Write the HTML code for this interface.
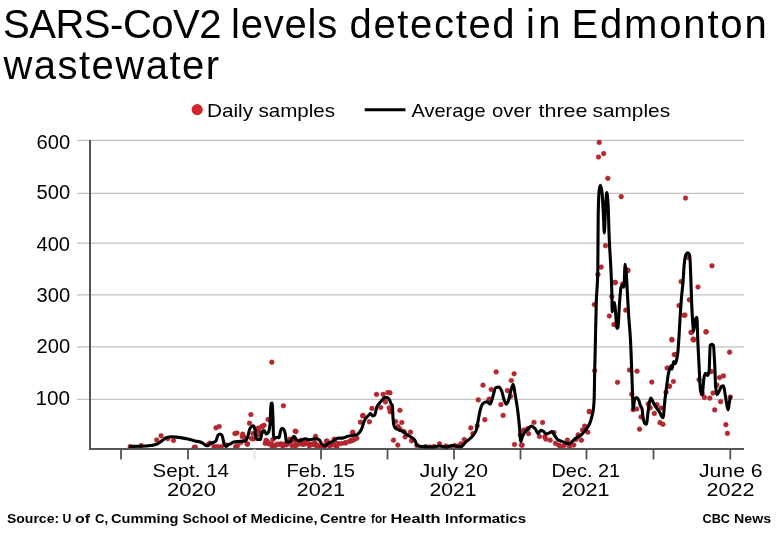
<!DOCTYPE html>
<html><head><meta charset="utf-8"><style>
html,body{margin:0;padding:0;background:#fff;width:780px;height:534px;overflow:hidden}
svg{display:block;font-family:"Liberation Sans", sans-serif;will-change:transform}
</style></head><body>
<svg width="780" height="534" viewBox="0 0 780 534">
<circle cx="197.2" cy="109.6" r="5.6" fill="#d1262d"/>
<line x1="364.7" y1="109.8" x2="405.5" y2="109.8" stroke="#000" stroke-width="3"/>
<line x1="77" y1="140.4" x2="744" y2="140.4" stroke="#c2c2c2" stroke-width="1.1"/>
<line x1="77" y1="193.4" x2="744" y2="193.4" stroke="#c2c2c2" stroke-width="1.1"/>
<line x1="77" y1="243.1" x2="744" y2="243.1" stroke="#c2c2c2" stroke-width="1.1"/>
<line x1="77" y1="294.9" x2="744" y2="294.9" stroke="#c2c2c2" stroke-width="1.1"/>
<line x1="77" y1="346.9" x2="744" y2="346.9" stroke="#c2c2c2" stroke-width="1.1"/>
<line x1="77" y1="399.4" x2="744" y2="399.4" stroke="#c2c2c2" stroke-width="1.1"/>
<path d="M90 140 V449 H744" fill="none" stroke="#555555" stroke-width="2"/>
<line x1="121" y1="449" x2="121" y2="459.5" stroke="#555555" stroke-width="1.8"/>
<line x1="188" y1="449" x2="188" y2="459.5" stroke="#555555" stroke-width="1.8"/>
<line x1="254.5" y1="449" x2="254.5" y2="459.5" stroke="#e4e4e4" stroke-width="1.8"/>
<line x1="321" y1="449" x2="321" y2="459.5" stroke="#555555" stroke-width="1.8"/>
<line x1="387.5" y1="449" x2="387.5" y2="459.5" stroke="#555555" stroke-width="1.8"/>
<line x1="454" y1="449" x2="454" y2="459.5" stroke="#555555" stroke-width="1.8"/>
<line x1="520.5" y1="449" x2="520.5" y2="459.5" stroke="#555555" stroke-width="1.8"/>
<line x1="586.5" y1="449" x2="586.5" y2="459.5" stroke="#555555" stroke-width="1.8"/>
<line x1="653.5" y1="449" x2="653.5" y2="459.5" stroke="#555555" stroke-width="1.8"/>
<line x1="730.3" y1="449" x2="730.3" y2="459.5" stroke="#555555" stroke-width="1.8"/>
<clipPath id="pc"><rect x="91" y="120" width="660" height="328"/></clipPath>
<g clip-path="url(#pc)" fill="#bb272e" stroke="#9a1d24" stroke-width="0.5"><circle cx="130.2" cy="446.7" r="2.35"/><circle cx="141.2" cy="445.6" r="2.35"/><circle cx="156.7" cy="440.0" r="2.35"/><circle cx="161.1" cy="435.8" r="2.35"/><circle cx="167.7" cy="438.7" r="2.35"/><circle cx="173.5" cy="440.4" r="2.35"/><circle cx="194.2" cy="447.5" r="2.35"/><circle cx="216.0" cy="427.8" r="2.35"/><circle cx="219.2" cy="426.5" r="2.35"/><circle cx="195.3" cy="447.1" r="2.35"/><circle cx="208.1" cy="444.5" r="2.35"/><circle cx="210.0" cy="443.2" r="2.35"/><circle cx="214.0" cy="446.5" r="2.35"/><circle cx="217.3" cy="446.5" r="2.35"/><circle cx="221.2" cy="446.8" r="2.35"/><circle cx="226.5" cy="445.1" r="2.35"/><circle cx="235.6" cy="446.8" r="2.35"/><circle cx="240.9" cy="442.5" r="2.35"/><circle cx="234.9" cy="433.6" r="2.35"/><circle cx="242.7" cy="434.1" r="2.35"/><circle cx="244.6" cy="437.5" r="2.35"/><circle cx="247.5" cy="443.8" r="2.35"/><circle cx="249.5" cy="423.2" r="2.35"/><circle cx="250.9" cy="414.6" r="2.35"/><circle cx="253.4" cy="439.0" r="2.35"/><circle cx="259.2" cy="431.2" r="2.35"/><circle cx="262.1" cy="426.3" r="2.35"/><circle cx="264.1" cy="425.3" r="2.35"/><circle cx="268.0" cy="419.5" r="2.35"/><circle cx="266.5" cy="440.9" r="2.35"/><circle cx="268.9" cy="443.8" r="2.35"/><circle cx="271.9" cy="445.8" r="2.35"/><circle cx="276.7" cy="444.8" r="2.35"/><circle cx="280.6" cy="443.8" r="2.35"/><circle cx="283.1" cy="445.8" r="2.35"/><circle cx="286.5" cy="444.8" r="2.35"/><circle cx="283.4" cy="405.8" r="2.35"/><circle cx="271.8" cy="362.2" r="2.35"/><circle cx="296.0" cy="431.5" r="2.35"/><circle cx="315.6" cy="436.3" r="2.35"/><circle cx="289.9" cy="439.2" r="2.35"/><circle cx="326.5" cy="441.2" r="2.35"/><circle cx="334.2" cy="439.2" r="2.35"/><circle cx="291.8" cy="445.6" r="2.35"/><circle cx="295.7" cy="445.0" r="2.35"/><circle cx="302.7" cy="444.4" r="2.35"/><circle cx="304.7" cy="441.2" r="2.35"/><circle cx="309.2" cy="444.4" r="2.35"/><circle cx="313.6" cy="444.4" r="2.35"/><circle cx="316.2" cy="445.6" r="2.35"/><circle cx="320.0" cy="446.9" r="2.35"/><circle cx="330.3" cy="445.6" r="2.35"/><circle cx="335.4" cy="445.0" r="2.35"/><circle cx="337.4" cy="443.7" r="2.35"/><circle cx="362.7" cy="415.9" r="2.35"/><circle cx="360.4" cy="422.2" r="2.35"/><circle cx="369.4" cy="421.8" r="2.35"/><circle cx="352.9" cy="432.4" r="2.35"/><circle cx="356.8" cy="438.3" r="2.35"/><circle cx="354.1" cy="439.5" r="2.35"/><circle cx="350.9" cy="440.7" r="2.35"/><circle cx="345.4" cy="443.0" r="2.35"/><circle cx="338.4" cy="443.8" r="2.35"/><circle cx="336.8" cy="446.2" r="2.35"/><circle cx="376.5" cy="394.4" r="2.35"/><circle cx="383.1" cy="394.4" r="2.35"/><circle cx="387.8" cy="392.5" r="2.35"/><circle cx="385.4" cy="401.9" r="2.35"/><circle cx="380.7" cy="407.5" r="2.35"/><circle cx="371.9" cy="408.4" r="2.35"/><circle cx="389.2" cy="407.9" r="2.35"/><circle cx="390.1" cy="411.7" r="2.35"/><circle cx="399.9" cy="410.3" r="2.35"/><circle cx="363.0" cy="415.4" r="2.35"/><circle cx="395.7" cy="421.5" r="2.35"/><circle cx="398.1" cy="426.7" r="2.35"/><circle cx="400.0" cy="429.0" r="2.35"/><circle cx="393.5" cy="440.2" r="2.35"/><circle cx="397.8" cy="445.1" r="2.35"/><circle cx="390.0" cy="392.8" r="2.35"/><circle cx="401.8" cy="422.5" r="2.35"/><circle cx="404.0" cy="431.5" r="2.35"/><circle cx="405.1" cy="436.9" r="2.35"/><circle cx="410.5" cy="432.2" r="2.35"/><circle cx="411.5" cy="440.8" r="2.35"/><circle cx="416.9" cy="445.5" r="2.35"/><circle cx="425.5" cy="446.6" r="2.35"/><circle cx="439.5" cy="443.8" r="2.35"/><circle cx="446.0" cy="446.0" r="2.35"/><circle cx="454.6" cy="445.5" r="2.35"/><circle cx="461.0" cy="443.8" r="2.35"/><circle cx="464.3" cy="439.5" r="2.35"/><circle cx="470.8" cy="427.9" r="2.35"/><circle cx="472.9" cy="433.7" r="2.35"/><circle cx="477.2" cy="425.7" r="2.35"/><circle cx="478.3" cy="399.9" r="2.35"/><circle cx="483.0" cy="385.2" r="2.35"/><circle cx="484.8" cy="419.7" r="2.35"/><circle cx="489.1" cy="399.2" r="2.35"/><circle cx="491.2" cy="389.5" r="2.35"/><circle cx="496.2" cy="371.9" r="2.35"/><circle cx="500.9" cy="404.6" r="2.35"/><circle cx="503.1" cy="415.4" r="2.35"/><circle cx="507.4" cy="390.6" r="2.35"/><circle cx="511.3" cy="380.5" r="2.35"/><circle cx="514.1" cy="373.8" r="2.35"/><circle cx="510.6" cy="396.4" r="2.35"/><circle cx="514.5" cy="444.5" r="2.35"/><circle cx="521.4" cy="445.1" r="2.35"/><circle cx="520.3" cy="434.8" r="2.35"/><circle cx="523.5" cy="430.5" r="2.35"/><circle cx="527.8" cy="428.7" r="2.35"/><circle cx="430.0" cy="447.0" r="2.35"/><circle cx="434.0" cy="446.5" r="2.35"/><circle cx="450.0" cy="447.0" r="2.35"/><circle cx="458.0" cy="446.0" r="2.35"/><circle cx="522.2" cy="445.1" r="2.35"/><circle cx="524.3" cy="430.0" r="2.35"/><circle cx="528.6" cy="433.7" r="2.35"/><circle cx="534.0" cy="422.3" r="2.35"/><circle cx="539.4" cy="436.5" r="2.35"/><circle cx="542.6" cy="422.5" r="2.35"/><circle cx="544.8" cy="436.9" r="2.35"/><circle cx="545.8" cy="439.1" r="2.35"/><circle cx="550.2" cy="440.2" r="2.35"/><circle cx="554.0" cy="432.6" r="2.35"/><circle cx="555.5" cy="443.4" r="2.35"/><circle cx="558.8" cy="445.1" r="2.35"/><circle cx="560.9" cy="446.6" r="2.35"/><circle cx="564.2" cy="445.5" r="2.35"/><circle cx="567.4" cy="440.2" r="2.35"/><circle cx="569.5" cy="446.6" r="2.35"/><circle cx="573.8" cy="445.1" r="2.35"/><circle cx="576.0" cy="439.5" r="2.35"/><circle cx="578.2" cy="434.8" r="2.35"/><circle cx="581.4" cy="440.2" r="2.35"/><circle cx="582.5" cy="430.0" r="2.35"/><circle cx="584.6" cy="426.1" r="2.35"/><circle cx="587.8" cy="432.2" r="2.35"/><circle cx="589.4" cy="411.5" r="2.35"/><circle cx="589.3" cy="411.7" r="2.35"/><circle cx="594.7" cy="370.7" r="2.35"/><circle cx="599.2" cy="142.4" r="2.35"/><circle cx="603.7" cy="153.6" r="2.35"/><circle cx="598.5" cy="157.0" r="2.35"/><circle cx="607.8" cy="178.3" r="2.35"/><circle cx="621.2" cy="196.7" r="2.35"/><circle cx="605.5" cy="245.7" r="2.35"/><circle cx="601.2" cy="267.1" r="2.35"/><circle cx="598.0" cy="274.5" r="2.35"/><circle cx="615.3" cy="282.4" r="2.35"/><circle cx="627.7" cy="270.7" r="2.35"/><circle cx="594.3" cy="304.6" r="2.35"/><circle cx="614.9" cy="282.6" r="2.35"/><circle cx="611.8" cy="296.4" r="2.35"/><circle cx="609.3" cy="316.0" r="2.35"/><circle cx="613.9" cy="324.6" r="2.35"/><circle cx="627.9" cy="270.2" r="2.35"/><circle cx="622.5" cy="284.0" r="2.35"/><circle cx="625.8" cy="310.2" r="2.35"/><circle cx="617.5" cy="382.3" r="2.35"/><circle cx="629.5" cy="370.0" r="2.35"/><circle cx="637.0" cy="371.2" r="2.35"/><circle cx="631.7" cy="394.3" r="2.35"/><circle cx="633.2" cy="409.7" r="2.35"/><circle cx="636.7" cy="409.0" r="2.35"/><circle cx="641.0" cy="417.0" r="2.35"/><circle cx="639.6" cy="429.2" r="2.35"/><circle cx="651.8" cy="382.1" r="2.35"/><circle cx="648.2" cy="403.9" r="2.35"/><circle cx="650.2" cy="407.8" r="2.35"/><circle cx="654.3" cy="413.4" r="2.35"/><circle cx="656.9" cy="404.7" r="2.35"/><circle cx="661.0" cy="408.0" r="2.35"/><circle cx="660.0" cy="422.7" r="2.35"/><circle cx="662.9" cy="424.3" r="2.35"/><circle cx="666.0" cy="392.3" r="2.35"/><circle cx="669.5" cy="386.2" r="2.35"/><circle cx="673.4" cy="381.5" r="2.35"/><circle cx="667.1" cy="368.0" r="2.35"/><circle cx="669.2" cy="386.3" r="2.35"/><circle cx="674.2" cy="354.6" r="2.35"/><circle cx="676.3" cy="354.6" r="2.35"/><circle cx="672.0" cy="340.0" r="2.35"/><circle cx="693.5" cy="340.0" r="2.35"/><circle cx="685.5" cy="198.1" r="2.35"/><circle cx="688.1" cy="257.5" r="2.35"/><circle cx="712.0" cy="265.8" r="2.35"/><circle cx="681.1" cy="281.6" r="2.35"/><circle cx="698.0" cy="287.0" r="2.35"/><circle cx="689.3" cy="299.8" r="2.35"/><circle cx="679.0" cy="305.6" r="2.35"/><circle cx="684.0" cy="315.3" r="2.35"/><circle cx="691.4" cy="332.4" r="2.35"/><circle cx="706.2" cy="331.8" r="2.35"/><circle cx="693.5" cy="339.4" r="2.35"/><circle cx="671.8" cy="339.4" r="2.35"/><circle cx="685.0" cy="315.1" r="2.35"/><circle cx="691.0" cy="332.3" r="2.35"/><circle cx="693.2" cy="339.2" r="2.35"/><circle cx="705.9" cy="331.9" r="2.35"/><circle cx="729.6" cy="352.2" r="2.35"/><circle cx="699.0" cy="379.7" r="2.35"/><circle cx="711.3" cy="371.6" r="2.35"/><circle cx="719.5" cy="377.6" r="2.35"/><circle cx="723.4" cy="375.9" r="2.35"/><circle cx="716.9" cy="385.1" r="2.35"/><circle cx="702.2" cy="393.8" r="2.35"/><circle cx="704.4" cy="397.4" r="2.35"/><circle cx="709.8" cy="398.1" r="2.35"/><circle cx="713.0" cy="393.1" r="2.35"/><circle cx="720.6" cy="401.7" r="2.35"/><circle cx="714.7" cy="409.9" r="2.35"/><circle cx="730.3" cy="397.0" r="2.35"/><circle cx="725.9" cy="424.7" r="2.35"/><circle cx="727.4" cy="433.3" r="2.35"/><circle cx="237.0" cy="433.0" r="2.35"/><circle cx="242.2" cy="436.5" r="2.35"/><circle cx="247.2" cy="444.2" r="2.35"/><circle cx="237.5" cy="445.8" r="2.35"/><circle cx="251.4" cy="438.5" r="2.35"/><circle cx="256.8" cy="429.6" r="2.35"/><circle cx="258.3" cy="428.1" r="2.35"/><circle cx="262.2" cy="426.5" r="2.35"/><circle cx="261.4" cy="432.7" r="2.35"/><circle cx="266.0" cy="440.4" r="2.35"/><circle cx="265.2" cy="443.5" r="2.35"/><circle cx="268.3" cy="442.7" r="2.35"/><circle cx="271.4" cy="444.2" r="2.35"/><circle cx="272.9" cy="439.6" r="2.35"/><circle cx="274.5" cy="445.8" r="2.35"/><circle cx="277.5" cy="444.2" r="2.35"/><circle cx="281.4" cy="445.0" r="2.35"/><circle cx="283.7" cy="444.2" r="2.35"/><circle cx="286.8" cy="443.5" r="2.35"/><circle cx="289.8" cy="441.9" r="2.35"/><circle cx="292.9" cy="440.4" r="2.35"/><circle cx="295.2" cy="431.2" r="2.35"/><circle cx="259.0" cy="435.0" r="2.35"/><circle cx="253.0" cy="433.5" r="2.35"/><circle cx="295.5" cy="445.8" r="2.35"/><circle cx="300.9" cy="440.4" r="2.35"/><circle cx="304.0" cy="444.2" r="2.35"/><circle cx="307.8" cy="443.5" r="2.35"/><circle cx="311.7" cy="444.2" r="2.35"/><circle cx="314.8" cy="442.7" r="2.35"/><circle cx="317.1" cy="445.0" r="2.35"/><circle cx="321.7" cy="445.8" r="2.35"/><circle cx="329.4" cy="445.8" r="2.35"/><circle cx="334.0" cy="445.0" r="2.35"/><circle cx="337.1" cy="444.2" r="2.35"/><circle cx="341.7" cy="443.5" r="2.35"/><circle cx="345.5" cy="442.7" r="2.35"/><circle cx="349.4" cy="441.5" r="2.35"/><circle cx="352.5" cy="440.4" r="2.35"/><circle cx="294.8" cy="440.4" r="2.35"/><circle cx="298.6" cy="444.2" r="2.35"/><circle cx="309.4" cy="445.8" r="2.35"/><circle cx="324.8" cy="445.8" r="2.35"/><circle cx="327.1" cy="441.2" r="2.35"/><circle cx="352.5" cy="432.3" r="2.35"/></g>
<path d="M130.30,446.50C133.70,446.40 137.10,446.34 140.50,446.20C143.93,446.06 147.37,445.87 150.80,445.50C152.50,445.32 154.20,445.00 155.90,444.50C157.60,444.00 159.30,442.50 161.00,441.40C162.73,440.28 164.47,438.33 166.20,437.80C167.90,437.28 169.60,436.80 171.30,436.80C173.00,436.80 174.70,436.96 176.40,437.10C179.83,437.38 183.27,438.11 186.70,438.80C189.47,439.36 192.23,440.22 195.00,440.90C197.20,441.44 199.40,441.65 201.60,442.50C202.67,442.91 203.73,444.28 204.80,444.80C205.70,445.24 206.60,445.80 207.50,445.80C208.37,445.80 209.23,443.91 210.10,443.50C211.17,443.00 212.23,442.94 213.30,442.50C214.20,442.13 215.10,441.82 216.00,440.90C216.63,440.25 217.27,435.98 217.90,435.30C218.57,434.59 219.23,434.00 219.90,434.00C220.57,434.00 221.23,434.53 221.90,435.30C222.33,435.80 222.77,438.16 223.20,439.90C223.53,441.24 223.87,443.81 224.20,444.50C224.73,445.60 225.27,446.50 225.80,446.50C226.47,446.50 227.13,445.49 227.80,445.10C228.67,444.59 229.53,444.23 230.40,443.80C231.70,443.16 233.00,442.12 234.30,441.90C235.63,441.68 236.97,441.62 238.30,441.50C239.60,441.39 240.90,441.32 242.20,441.20C243.13,441.12 244.07,441.10 245.00,440.90C245.50,440.80 246.00,440.17 246.50,439.50C246.93,438.92 247.37,437.73 247.80,436.50C248.43,434.70 249.07,430.56 249.70,429.20C250.30,427.91 250.90,426.84 251.50,426.50C252.17,426.12 252.83,425.80 253.50,425.80C254.00,425.80 254.50,427.76 255.00,430.00C255.27,431.19 255.53,436.27 255.80,437.00C256.37,438.56 256.93,439.50 257.50,439.50C258.50,439.50 259.50,439.50 260.50,439.50C261.00,439.50 261.50,433.26 262.00,432.40C262.70,431.20 263.40,430.30 264.10,430.30C264.83,430.30 265.57,434.00 266.30,434.00C267.00,434.00 267.70,433.35 268.40,432.40C268.93,431.68 269.47,429.09 270.00,424.90C270.37,422.02 270.73,403.85 271.10,403.50C271.43,403.18 271.77,403.00 272.10,403.00C272.37,403.00 272.63,410.45 272.90,416.40C273.10,420.86 273.30,434.73 273.50,435.60C273.93,437.49 274.37,438.30 274.80,438.30C275.53,438.30 276.27,437.20 277.00,437.20C277.70,437.20 278.40,437.70 279.10,437.70C279.57,437.70 280.03,432.34 280.50,431.00C280.90,429.85 281.30,428.50 281.70,428.50C282.13,428.50 282.57,428.50 283.00,428.50C283.50,428.50 284.00,429.79 284.50,431.00C284.83,431.81 285.17,433.23 285.50,435.00C285.80,436.59 286.10,442.00 286.40,442.00C287.47,442.00 288.53,441.97 289.60,441.90C290.40,441.85 291.20,440.02 292.00,439.00C292.67,438.15 293.33,436.30 294.00,436.30C294.97,436.30 295.93,439.75 296.90,440.20C297.83,440.64 298.77,441.00 299.70,441.00C300.63,441.00 301.57,439.69 302.50,439.40C303.43,439.11 304.37,438.80 305.30,438.80C306.60,438.80 307.90,439.70 309.20,439.70C310.33,439.70 311.47,439.23 312.60,439.10C313.73,438.97 314.87,438.80 316.00,438.80C317.10,438.80 318.20,439.23 319.30,439.90C319.87,440.24 320.43,442.24 321.00,442.90C322.23,444.34 323.47,445.90 324.70,445.90C325.97,445.90 327.23,443.97 328.50,443.30C330.00,442.51 331.50,442.16 333.00,441.40C334.73,440.53 336.47,438.10 338.20,438.10C339.70,438.10 341.20,438.10 342.70,438.10C344.47,438.10 346.23,436.58 348.00,436.20C349.73,435.83 351.47,435.70 353.20,435.40C354.43,435.19 355.67,435.10 356.90,434.70C357.27,434.58 357.63,434.30 358.00,434.00C359.20,433.02 360.40,431.31 361.60,429.00C362.53,427.20 363.47,422.39 364.40,420.60C365.17,419.13 365.93,418.20 366.70,417.30C367.47,416.40 368.23,415.77 369.00,415.00C369.47,414.53 369.93,413.60 370.40,413.60C371.20,413.60 372.00,415.90 372.80,415.90C373.43,415.90 374.07,415.52 374.70,415.00C375.47,414.37 376.23,408.02 377.00,406.50C377.93,404.65 378.87,403.95 379.80,402.80C380.60,401.81 381.40,400.88 382.20,400.00C382.97,399.16 383.73,397.60 384.50,397.60C385.43,397.60 386.37,397.60 387.30,397.60C388.07,397.60 388.83,398.81 389.60,400.00C390.07,400.72 390.53,402.86 391.00,403.70C391.47,404.54 391.93,404.26 392.40,405.60C392.60,406.18 392.80,415.37 393.00,417.80C393.30,421.45 393.60,424.29 393.90,425.30C394.37,426.88 394.83,427.68 395.30,428.10C396.53,429.21 397.77,429.46 399.00,430.00C400.30,430.57 401.60,430.84 402.90,431.50C404.33,432.23 405.77,433.83 407.20,434.80C408.63,435.77 410.07,436.38 411.50,437.40C412.60,438.18 413.70,438.78 414.80,440.20C415.50,441.10 416.20,444.71 416.90,445.10C418.70,446.11 420.50,446.47 422.30,446.60C425.87,446.86 429.43,447.00 433.00,447.00C435.17,447.00 437.33,446.00 439.50,446.00C441.67,446.00 443.83,447.00 446.00,447.00C448.17,447.00 450.33,445.50 452.50,445.50C455.33,445.50 458.17,446.80 461.00,446.80C462.47,446.80 463.93,443.65 465.40,442.30C467.53,440.33 469.67,439.30 471.80,437.00C473.27,435.42 474.73,434.10 476.20,430.50C476.90,428.78 477.60,423.22 478.30,419.70C479.03,416.02 479.77,411.12 480.50,408.90C481.33,406.38 482.17,404.12 483.00,403.50C484.33,402.50 485.67,401.80 487.00,401.80C488.07,401.80 489.13,404.00 490.20,404.00C491.13,404.00 492.07,398.85 493.00,396.00C493.83,393.45 494.67,388.19 495.50,387.80C496.60,387.28 497.70,387.00 498.80,387.00C499.73,387.00 500.67,388.80 501.60,390.60C502.47,392.27 503.33,398.18 504.20,400.30C504.90,402.02 505.60,404.20 506.30,404.20C507.03,404.20 507.77,402.12 508.50,400.30C509.20,398.56 509.90,394.08 510.60,391.70C511.47,388.75 512.33,384.20 513.20,384.20C513.80,384.20 514.40,390.40 515.00,393.80C515.83,398.52 516.67,402.93 517.50,409.00C518.07,413.13 518.63,418.47 519.20,424.00C519.73,429.20 520.27,441.40 520.80,441.40C521.37,441.40 521.93,437.86 522.50,436.50C523.10,435.06 523.70,433.65 524.30,432.80C525.37,431.29 526.43,430.51 527.50,429.50C528.80,428.27 530.10,426.10 531.40,426.10C532.70,426.10 534.00,427.54 535.30,428.90C536.20,429.84 537.10,433.60 538.00,433.60C538.93,433.60 539.87,430.40 540.80,430.40C541.60,430.40 542.40,430.82 543.20,431.20C544.23,431.69 545.27,434.00 546.30,434.00C547.33,434.00 548.37,433.25 549.40,432.80C550.20,432.45 551.00,431.60 551.80,431.60C552.87,431.60 553.93,434.60 555.00,436.00C556.03,437.36 557.07,439.28 558.10,439.90C559.40,440.68 560.70,440.89 562.00,441.40C563.50,441.99 565.00,442.81 566.50,443.20C567.50,443.46 568.50,443.80 569.50,443.80C570.60,443.80 571.70,441.78 572.80,440.80C573.87,439.85 574.93,438.70 576.00,438.00C577.43,437.06 578.87,436.80 580.30,435.80C581.37,435.06 582.43,433.69 583.50,432.50C584.33,431.57 585.17,430.63 586.00,429.50C587.17,427.92 588.33,426.51 589.50,424.00C590.33,422.21 591.17,419.32 592.00,416.00C592.47,414.14 592.93,412.57 593.40,409.00C593.67,406.96 593.93,404.35 594.20,398.00C594.33,394.82 594.47,381.33 594.60,375.00C594.77,367.08 594.93,361.98 595.10,355.00C595.50,338.26 595.90,312.93 596.30,301.50C596.80,287.22 597.30,291.54 597.80,270.60C597.93,265.02 598.07,221.23 598.20,215.00C598.53,199.42 598.87,192.75 599.20,190.20C599.57,187.40 599.93,185.30 600.30,185.30C600.83,185.30 601.37,188.05 601.90,191.30C602.40,194.35 602.90,206.11 603.40,215.00C603.70,220.33 604.00,232.90 604.30,232.90C604.77,232.90 605.23,210.00 605.70,203.70C606.07,198.75 606.43,192.50 606.80,192.50C607.17,192.50 607.53,196.97 607.90,201.50C608.37,207.26 608.83,229.82 609.30,240.00C609.80,250.91 610.30,256.58 610.80,267.00C611.13,273.95 611.47,279.61 611.80,291.20C611.93,295.84 612.07,311.90 612.20,311.90C612.53,311.90 612.87,304.09 613.20,303.60C613.63,302.97 614.07,302.60 614.50,302.60C614.83,302.60 615.17,308.56 615.50,311.90C616.00,316.91 616.50,328.40 617.00,328.40C617.33,328.40 617.67,327.94 618.00,327.30C618.53,326.27 619.07,307.90 619.60,301.50C620.10,295.50 620.60,288.39 621.10,287.10C621.57,285.90 622.03,285.00 622.50,285.00C622.93,285.00 623.37,287.10 623.80,287.10C624.27,287.10 624.73,264.40 625.20,264.40C625.53,264.40 625.87,269.01 626.20,272.70C626.57,276.75 626.93,284.88 627.30,291.20C627.77,299.24 628.23,308.86 628.70,316.00C629.27,324.67 629.83,328.84 630.40,338.70C630.83,346.24 631.27,358.69 631.70,370.00C631.97,376.96 632.23,385.02 632.50,392.50C632.70,398.11 632.90,409.30 633.10,409.30C633.67,409.30 634.23,399.77 634.80,399.00C635.47,398.09 636.13,397.50 636.80,397.50C637.50,397.50 638.20,399.13 638.90,400.60C639.40,401.65 639.90,404.46 640.40,405.70C640.93,407.02 641.47,407.04 642.00,408.80C642.33,409.90 642.67,415.20 643.00,417.00C643.53,419.89 644.07,422.67 644.60,423.20C645.27,423.86 645.93,424.30 646.60,424.30C647.00,424.30 647.40,417.18 647.80,414.00C648.27,410.30 648.73,406.05 649.20,403.70C649.70,401.19 650.20,398.00 650.70,398.00C651.13,398.00 651.57,398.92 652.00,399.60C652.60,400.54 653.20,402.62 653.80,403.70C654.50,404.96 655.20,405.76 655.90,406.80C656.57,407.79 657.23,408.81 657.90,409.80C658.60,410.84 659.30,411.70 660.00,412.90C660.67,414.05 661.33,416.52 662.00,417.00C662.43,417.31 662.87,417.60 663.30,417.60C663.57,417.60 663.83,411.64 664.10,408.80C664.43,405.25 664.77,401.49 665.10,398.50C665.53,394.62 665.97,391.58 666.40,388.30C667.03,383.51 667.67,377.44 668.30,374.50C669.17,370.48 670.03,365.90 670.90,365.90C671.27,365.90 671.63,369.10 672.00,369.10C672.57,369.10 673.13,361.50 673.70,361.50C674.20,361.50 674.70,363.70 675.20,363.70C675.70,363.70 676.20,361.37 676.70,359.40C677.07,357.96 677.43,355.90 677.80,352.90C678.23,349.36 678.67,341.83 679.10,335.00C679.33,331.32 679.57,326.30 679.80,322.50C680.37,313.27 680.93,304.54 681.50,297.70C682.03,291.27 682.57,287.79 683.10,281.20C683.47,276.67 683.83,268.10 684.20,264.70C684.67,260.37 685.13,256.55 685.60,255.50C686.30,253.92 687.00,252.80 687.70,252.80C688.37,252.80 689.03,253.66 689.70,255.50C690.07,256.51 690.43,268.18 690.80,277.10C691.07,283.59 691.33,295.50 691.60,301.90C691.90,309.10 692.20,315.19 692.50,319.40C692.87,324.55 693.23,331.30 693.60,331.30C694.17,331.30 694.73,320.69 695.30,319.40C695.83,318.18 696.37,317.20 696.90,317.20C697.23,317.20 697.57,335.64 697.90,343.10C698.27,351.31 698.63,357.95 699.00,364.70C699.50,373.90 700.00,388.26 700.50,390.50C701.07,393.04 701.63,394.80 702.20,394.80C702.80,394.80 703.40,380.20 704.00,377.60C704.50,375.43 705.00,373.30 705.50,373.30C706.20,373.30 706.90,375.40 707.60,375.40C708.10,375.40 708.60,373.76 709.10,371.10C709.47,369.15 709.83,345.80 710.20,345.30C710.77,344.53 711.33,344.20 711.90,344.20C712.40,344.20 712.90,344.59 713.40,345.30C713.83,345.92 714.27,356.63 714.70,364.70C715.00,370.29 715.30,382.98 715.60,386.20C716.03,390.85 716.47,394.80 716.90,394.80C717.77,394.80 718.63,392.09 719.50,390.50C720.20,389.21 720.90,386.47 721.60,386.20C722.20,385.96 722.80,385.80 723.40,385.80C723.90,385.80 724.40,390.09 724.90,392.70C725.60,396.35 726.30,402.33 727.00,405.60C727.37,407.31 727.73,409.90 728.10,409.90C728.47,409.90 728.83,405.55 729.20,403.40C729.57,401.25 729.93,399.13 730.30,397.00" fill="none" stroke="#000" stroke-width="3.1" stroke-linejoin="round" stroke-linecap="round"/>
<g fill="#000">
<text id="t0" x="3.00" y="38.00" font-size="40" font-weight="normal" textLength="218.59" lengthAdjust="spacing">SARS-CoV2</text>
<text id="t1" x="231.00" y="38.00" font-size="40" font-weight="normal" textLength="106.13" lengthAdjust="spacing">levels</text>
<text id="t2" x="349.50" y="38.00" font-size="40" font-weight="normal" textLength="165.08" lengthAdjust="spacing">detected</text>
<text id="t3" x="526.00" y="38.00" font-size="40" font-weight="normal" textLength="34.47" lengthAdjust="spacing">in</text>
<text id="t4" x="571.50" y="38.00" font-size="40" font-weight="normal" textLength="195.17" lengthAdjust="spacing">Edmonton</text>
<text id="t5" x="3.50" y="78.70" font-size="40" font-weight="normal" textLength="215.50" lengthAdjust="spacing">wastewater</text>
<text id="t6" x="207.00" y="117.30" font-size="19.0" font-weight="normal" textLength="46.06" lengthAdjust="spacingAndGlyphs">Daily</text>
<text id="t7" x="258.50" y="117.30" font-size="19.0" font-weight="normal" textLength="76.53" lengthAdjust="spacingAndGlyphs">samples</text>
<text id="t8" x="411.50" y="117.30" font-size="19.0" font-weight="normal" textLength="74.01" lengthAdjust="spacingAndGlyphs">Average</text>
<text id="t9" x="492.00" y="117.30" font-size="19.0" font-weight="normal" textLength="39.55" lengthAdjust="spacingAndGlyphs">over</text>
<text id="t10" x="538.50" y="117.30" font-size="19.0" font-weight="normal" textLength="49.02" lengthAdjust="spacingAndGlyphs">three</text>
<text id="t11" x="592.50" y="117.30" font-size="19.0" font-weight="normal" textLength="77.55" lengthAdjust="spacingAndGlyphs">samples</text>
<text id="t12" x="36.50" y="148.80" font-size="19.5" font-weight="normal" textLength="33.59" lengthAdjust="spacingAndGlyphs">600</text>
<text id="t13" x="36.50" y="199.20" font-size="19.5" font-weight="normal" textLength="33.59" lengthAdjust="spacingAndGlyphs">500</text>
<text id="t14" x="36.50" y="250.80" font-size="19.5" font-weight="normal" textLength="33.53" lengthAdjust="spacingAndGlyphs">400</text>
<text id="t15" x="36.50" y="302.10" font-size="19.5" font-weight="normal" textLength="33.59" lengthAdjust="spacingAndGlyphs">300</text>
<text id="t16" x="36.50" y="352.90" font-size="19.5" font-weight="normal" textLength="33.59" lengthAdjust="spacingAndGlyphs">200</text>
<text id="t17" x="35.50" y="404.50" font-size="19.5" font-weight="normal" textLength="34.61" lengthAdjust="spacingAndGlyphs">100</text>
<text id="t18" x="152.50" y="476.90" font-size="18.4" font-weight="normal" textLength="76.55" lengthAdjust="spacingAndGlyphs">Sept. 14</text>
<text id="t19" x="167.00" y="496.30" font-size="18.2" font-weight="normal" textLength="49.06" lengthAdjust="spacingAndGlyphs">2020</text>
<text id="t20" x="286.50" y="476.90" font-size="18.4" font-weight="normal" textLength="68.55" lengthAdjust="spacingAndGlyphs">Feb. 15</text>
<text id="t21" x="296.50" y="496.30" font-size="18.2" font-weight="normal" textLength="48.58" lengthAdjust="spacingAndGlyphs">2021</text>
<text id="t22" x="419.50" y="476.90" font-size="18.4" font-weight="normal" textLength="68.53" lengthAdjust="spacingAndGlyphs">July 20</text>
<text id="t23" x="429.50" y="496.30" font-size="18.2" font-weight="normal" textLength="47.10" lengthAdjust="spacingAndGlyphs">2021</text>
<text id="t24" x="551.50" y="476.90" font-size="18.4" font-weight="normal" textLength="68.60" lengthAdjust="spacingAndGlyphs">Dec. 21</text>
<text id="t25" x="561.50" y="496.30" font-size="18.2" font-weight="normal" textLength="48.08" lengthAdjust="spacingAndGlyphs">2021</text>
<text id="t26" x="699.00" y="476.90" font-size="18.4" font-weight="normal" textLength="63.56" lengthAdjust="spacingAndGlyphs">June 6</text>
<text id="t27" x="706.50" y="496.30" font-size="18.2" font-weight="normal" textLength="48.06" lengthAdjust="spacingAndGlyphs">2022</text>
<text id="t28" x="7.00" y="523.30" font-size="13.2" font-weight="bold" textLength="52.08" lengthAdjust="spacingAndGlyphs">Source:</text>
<text id="t29" x="62.50" y="523.30" font-size="13.2" font-weight="bold" textLength="8.83" lengthAdjust="spacingAndGlyphs">U</text>
<text id="t30" x="75.00" y="523.30" font-size="13.2" font-weight="bold" textLength="15.03" lengthAdjust="spacingAndGlyphs">of</text>
<text id="t31" x="95.00" y="523.30" font-size="13.2" font-weight="bold" textLength="13.09" lengthAdjust="spacingAndGlyphs">C,</text>
<text id="t32" x="111.00" y="523.30" font-size="13.2" font-weight="bold" textLength="67.55" lengthAdjust="spacingAndGlyphs">Cumming</text>
<text id="t33" x="182.50" y="523.30" font-size="13.2" font-weight="bold" textLength="46.60" lengthAdjust="spacingAndGlyphs">School</text>
<text id="t34" x="232.50" y="523.30" font-size="13.2" font-weight="bold" textLength="14.05" lengthAdjust="spacingAndGlyphs">of</text>
<text id="t35" x="250.50" y="523.30" font-size="13.2" font-weight="bold" textLength="67.06" lengthAdjust="spacingAndGlyphs">Medicine,</text>
<text id="t36" x="320.00" y="523.30" font-size="13.2" font-weight="bold" textLength="46.02" lengthAdjust="spacingAndGlyphs">Centre</text>
<text id="t37" x="371.00" y="523.30" font-size="13.2" font-weight="bold" textLength="15.57" lengthAdjust="spacingAndGlyphs">for</text>
<text id="t38" x="390.50" y="523.30" font-size="13.2" font-weight="bold" textLength="50.11" lengthAdjust="spacingAndGlyphs">Health</text>
<text id="t39" x="445.00" y="523.30" font-size="13.2" font-weight="bold" textLength="81.04" lengthAdjust="spacingAndGlyphs">Informatics</text>
<text id="t40" x="702.50" y="523.30" font-size="13.2" font-weight="bold" textLength="27.53" lengthAdjust="spacingAndGlyphs">CBC</text>
<text id="t41" x="734.00" y="523.30" font-size="13.2" font-weight="bold" textLength="37.05" lengthAdjust="spacingAndGlyphs">News</text>
</g>
</svg>
</body></html>
